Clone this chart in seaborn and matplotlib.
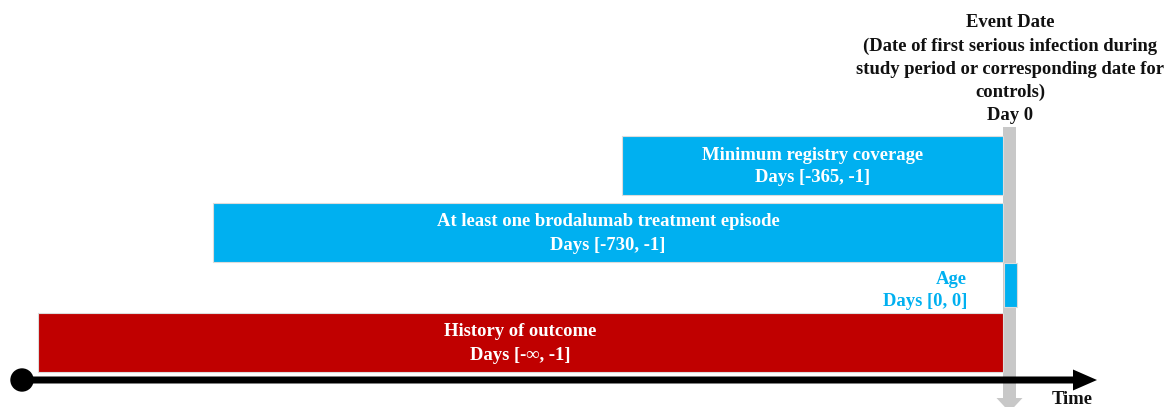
import matplotlib
matplotlib.use("Agg")
import matplotlib.pyplot as plt
import matplotlib.patches as mpatches
import seaborn as sns
import pandas as pd

sns.set_theme(style="white")
plt.rcParams['font.family'] = ['Liberation Serif', 'DejaVu Serif']

# ---- data (schematic timeline; x in schematic units, 0 = event date) ----
bar_names = ["Minimum registry coverage",
             "At least one brodalumab treatment episode",
             "Age",
             "History of outcome"]
bar_ranges = ["Days [-365, -1]", "Days [-730, -1]", "Days [0, 0]", "Days [-\u221e, -1]"]
bar_start = [-381, -790, 1, -965]
bar_end = [0, 0, 14, 0]
bar_colors = ["#00B0F0", "#00B0F0", "#00B0F0", "#C00000"]

event_title = ("Event Date\n(Date of first serious infection during\n"
               "study period or corresponding date for\ncontrols)\nDay 0")
axis_label = "Time"

df = pd.DataFrame({"name": bar_names, "range": bar_ranges,
                   "start": bar_start, "end": bar_end, "color": bar_colors})
df["width"] = df["end"] - df["start"]

# ---- layout ----
W, H = 1164, 407
X0 = 1003  # pixel of event date
fig = plt.figure(figsize=(W / 100, H / 100), dpi=100)
ax = fig.add_axes([0, 0, 1, 1])
ax.set_xlim(-X0, W - X0)
ax.set_ylim(H, 0)
ax.axis("off")

row_center = [165.5, 232.5, 285, 342.5]
row_height = [59, 59, 44, 59]

# grey event-date arrow (behind bars)
grey = mpatches.FancyArrow(6.5, 127, 0, 285, width=13, head_width=26,
                           head_length=14, length_includes_head=True,
                           color="#C8C8C8", lw=0, zorder=1)
ax.add_patch(grey)

ax.barh(row_center, df["width"], left=df["start"], height=row_height,
        color=df["color"], edgecolor="#dcdcdc", linewidth=0.8, zorder=2)

fs = 13.4
for i, r in df.iterrows():
    if r["name"] == "Age":
        ax.text(967 - X0, 279, r["name"], ha="right", va="center",
                color="#00B0F0", fontsize=fs, fontweight="bold")
        ax.text(967 - X0, 302, r["range"], ha="right", va="center",
                color="#00B0F0", fontsize=fs, fontweight="bold")
    else:
        cx = (r["start"] + r["end"]) / 2
        ax.text(cx, row_center[i] - 10.5, r["name"], ha="center", va="center",
                color="white", fontsize=fs, fontweight="bold", zorder=3)
        ax.text(cx, row_center[i] + 12.5, r["range"], ha="center", va="center",
                color="white", fontsize=fs, fontweight="bold", zorder=3)

# time axis arrow
arrow = mpatches.FancyArrow(22 - X0, 380, 1097 - 22, 0, width=7, head_width=21,
                            head_length=24, length_includes_head=True,
                            color="black", lw=0, zorder=4)
ax.add_patch(arrow)
ax.add_patch(mpatches.Circle((22 - X0, 380), 11, color="black", zorder=5))

ax.text(1072 - X0, 400, axis_label, ha="center", va="center", color="#111111",
        fontsize=fs, fontweight="bold")

ax.text(1010 - X0, 69, event_title, ha="center", va="center", color="#111111",
        fontsize=fs, fontweight="bold", linespacing=1.45)

fig.savefig("out.png", dpi=100)
